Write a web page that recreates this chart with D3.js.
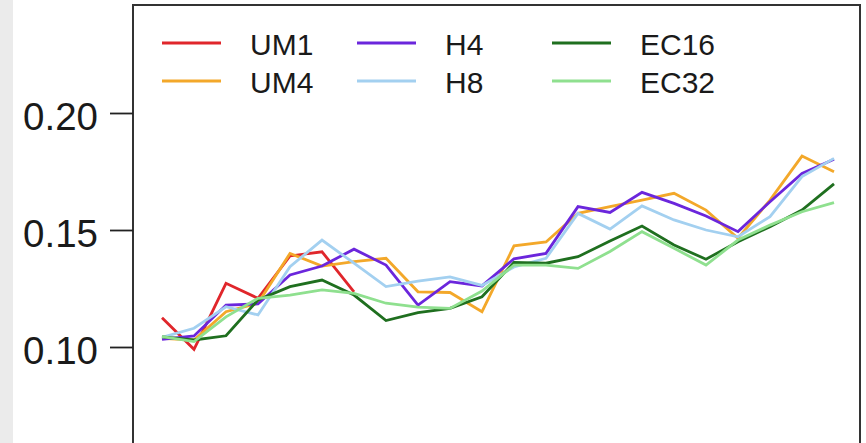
<!DOCTYPE html>
<html lang="en">
<head>
<meta charset="UTF-8">
<title>UM / H / EC series</title>
<script src="https://d3js.org/d3.v7.min.js"></script>
<style>
  body, html {
    margin: 0;
    padding: 0;
    background: #fff;
    font-family: "Liberation Sans", Arial, Helvetica, sans-serif;
  }
  svg { display: block; }
</style>
</head>
<body>
<div id="chart"></div>
<script>
// time steps along x (axis is cut off in the picture)
const steps = [1, 2, 3, 4, 5, 6, 7, 8, 9, 10, 11, 12, 13, 14, 15, 16, 17, 18, 19, 20, 21, 22];

const um1 = [0.1125, 0.0990, 0.1272, 0.1208, 0.1389, 0.1407, 0.1236];
const um4 = [0.1037, 0.1030, 0.1151, 0.1187, 0.1400, 0.1346, 0.1365, 0.1379, 0.1236, 0.1233, 0.1151,
             0.1432, 0.1449, 0.1571, 0.1600, 0.1628, 0.1657, 0.1585, 0.1465, 0.1628, 0.1816, 0.1749];
const h4  = [0.1033, 0.1047, 0.1179, 0.1184, 0.1308, 0.1346, 0.1418, 0.1350, 0.1179, 0.1279, 0.1261,
             0.1377, 0.1400, 0.1600, 0.1575, 0.1661, 0.1614, 0.1560, 0.1493, 0.1621, 0.1742, 0.1802];
const h8  = [0.1041, 0.1080, 0.1172, 0.1137, 0.1343, 0.1457, 0.1358, 0.1258, 0.1282, 0.1300, 0.1263,
             0.1342, 0.1379, 0.1571, 0.1504, 0.1603, 0.1543, 0.1500, 0.1471, 0.1557, 0.1728, 0.1806];
const ec16 = [0.1043, 0.1030, 0.1048, 0.1201, 0.1258, 0.1286, 0.1222, 0.1113, 0.1147, 0.1165, 0.1215,
              0.1361, 0.1358, 0.1386, 0.1453, 0.1517, 0.1436, 0.1375, 0.1450, 0.1514, 0.1585, 0.1697];
const ec32 = [0.1044, 0.1023, 0.1129, 0.1208, 0.1222, 0.1244, 0.1229, 0.1187, 0.1170, 0.1165, 0.1239,
              0.1350, 0.1350, 0.1336, 0.1408, 0.1493, 0.1422, 0.1350, 0.1457, 0.1521, 0.1578, 0.1617];

const yTicks = [0.10, 0.15, 0.20];

const series = [
  { name: "UM1",  values: um1,  color: "#e0262b" },
  { name: "UM4",  values: um4,  color: "#f3a82a" },
  { name: "H4",   values: h4,   color: "#6b26dc" },
  { name: "H8",   values: h8,   color: "#a3d0f0" },
  { name: "EC16", values: ec16, color: "#1f6f1f" },
  { name: "EC32", values: ec32, color: "#8fe08f" }
];

const width = 866, height = 443;
const box = { left: 133, top: 5, right: 860 };

const svg = d3.select("#chart")
  .append("svg")
  .attr("width", width)
  .attr("height", height);

// grey page margin on the left
svg.append("rect")
  .attr("x", 0).attr("y", 0)
  .attr("width", 13).attr("height", height)
  .attr("fill", "#ebebeb");

const x = d3.scaleLinear().domain([1, 22]).range([162, 834]);
const y = d3.scaleLinear().domain([0.10, 0.20]).range([347, 113]);

const line = d3.line()
  .x((d, i) => x(steps[i]))
  .y(d => y(d));

svg.append("g")
  .selectAll("path")
  .data(series)
  .enter().append("path")
  .attr("d", d => line(d.values))
  .attr("fill", "none")
  .attr("stroke", d => d.color)
  .attr("stroke-width", 2.8)
  .attr("stroke-linejoin", "miter");

// plot frame (runs off the bottom of the picture)
svg.append("rect")
  .attr("x", box.left)
  .attr("y", box.top)
  .attr("width", box.right - box.left)
  .attr("height", 600)
  .attr("fill", "none")
  .attr("stroke", "#333")
  .attr("stroke-width", 2);

const yAxis = svg.append("g")
  .attr("transform", `translate(${box.left},0)`)
  .call(d3.axisLeft(y)
    .tickValues(yTicks)
    .tickFormat(d3.format(".2f"))
    .tickSizeInner(23)
    .tickSizeOuter(0)
    .tickPadding(12));

yAxis.select(".domain").remove();
yAxis.selectAll(".tick line")
  .attr("stroke", "#222")
  .attr("stroke-width", 1.8);
yAxis.selectAll(".tick text")
  .attr("fill", "#1a1a1a")
  .attr("dy", "0.43em")
  .style("font-family", "'Liberation Sans', Arial, sans-serif")
  .style("font-size", "38.5px");

// legend: 3 columns x 2 rows
const legendCols = [162, 357, 552];
const legendRows = [43, 81];

const legend = svg.append("g")
  .selectAll("g")
  .data(series)
  .enter().append("g")
  .attr("transform", (d, i) => `translate(${legendCols[Math.floor(i / 2)]},${legendRows[i % 2]})`);

legend.append("line")
  .attr("x1", 0).attr("x2", 59)
  .attr("y1", 0).attr("y2", 0)
  .attr("stroke", d => d.color)
  .attr("stroke-width", 2.8);

legend.append("text")
  .attr("x", 88)
  .attr("y", 12)
  .text(d => d.name)
  .attr("fill", "#1a1a1a")
  .style("font-family", "'Liberation Sans', Arial, sans-serif")
  .style("font-size", "30px");
</script>
</body>
</html>
